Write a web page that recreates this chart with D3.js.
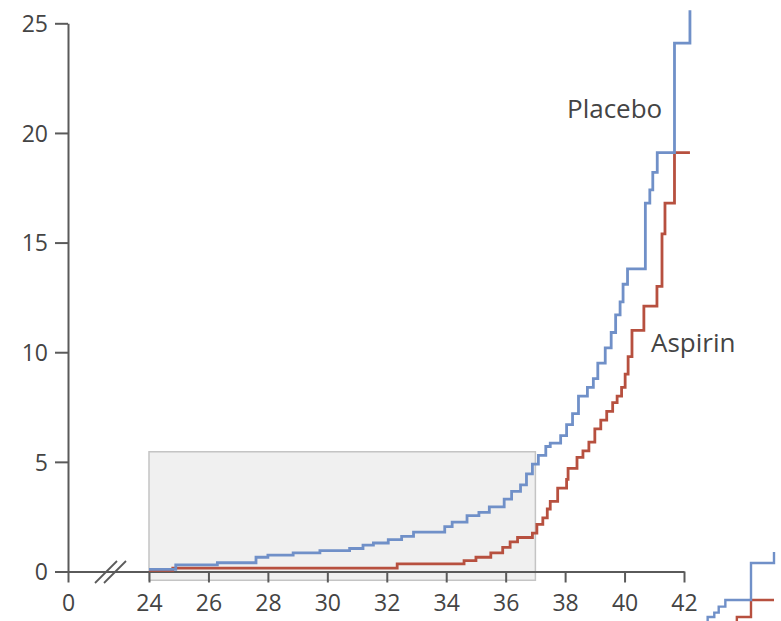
<!DOCTYPE html>
<html>
<head>
<meta charset="utf-8">
<script src="https://cdn.jsdelivr.net/npm/d3@7"></script>
<style>
    body { margin: 0; background: #fff; }
    .tick text { font-family: "Open Sans", sans-serif; font-size: 23px; fill: #444; }
    .curve-label { font-family: "Open Sans", sans-serif; font-size: 26px; fill: #444; }
</style>
</head>
<body>
<div id="data-visualisation"></div>
<script>
//
// Cumulative incidence, aspirin vs placebo (step curves)
//

// Weeks of gestation where each curve steps, and the value after the step (%)
let placeboWeeks = [24.0, 24.9, 26.3, 27.6, 28.0, 28.85, 29.75, 30.75, 31.2, 31.55, 32.05, 32.5, 32.9, 33.95, 34.2, 34.7, 35.1, 35.45, 35.95, 36.2, 36.5, 36.7, 36.9, 37.1, 37.35, 37.5, 37.85, 38.05, 38.25, 38.45, 38.75, 38.95, 39.1, 39.35, 39.55, 39.7, 39.85, 39.95, 40.1, 40.7, 40.85, 40.95, 41.1, 41.68, 42.2];
let placeboRisk = [0.1, 0.3, 0.4, 0.65, 0.75, 0.85, 0.95, 1.05, 1.2, 1.3, 1.45, 1.6, 1.8, 2.05, 2.25, 2.55, 2.7, 2.95, 3.3, 3.65, 3.95, 4.45, 4.9, 5.3, 5.7, 5.85, 6.2, 6.7, 7.2, 8.0, 8.4, 8.8, 9.5, 10.2, 10.9, 11.7, 12.3, 13.1, 13.8, 16.8, 17.4, 18.2, 19.1, 24.1, 25.6];

let aspirinWeeks = [24.0, 24.8, 32.35, 34.6, 35.0, 35.5, 35.9, 36.15, 36.4, 36.9, 37.05, 37.25, 37.4, 37.5, 37.75, 38.05, 38.1, 38.4, 38.6, 38.8, 39.0, 39.2, 39.4, 39.6, 39.75, 39.9, 40.02, 40.12, 40.25, 40.65, 41.09, 41.26, 41.36, 41.68, 42.2];
let aspirinRisk = [0.05, 0.15, 0.35, 0.5, 0.65, 0.85, 1.1, 1.35, 1.55, 1.75, 2.15, 2.45, 2.85, 3.2, 3.8, 4.2, 4.7, 5.2, 5.5, 5.9, 6.5, 6.9, 7.3, 7.7, 8.0, 8.4, 9.0, 9.8, 11.0, 12.1, 13.0, 15.4, 16.8, 19.1, 19.1];

// Axis ticks
let xTicks = [0, 24, 26, 28, 30, 32, 34, 36, 38, 40, 42];
let yTicks = [0, 5, 10, 15, 20, 25];

// Shaded region (weeks 24-37, up to ~5.5%)
let shadeWeeks = [24, 37];
let shadeRisk = [-0.4, 5.46];

let width = 781;
let height = 621;

let svg = d3.select('#data-visualisation')
    .append('svg')
    .attr('width', width)
    .attr('height', height);

// Broken x scale: 0 then jump to 24
let x = d3.scaleLinear()
    .domain([0, 24, 42])
    .range([68, 149, 684]);

let y = d3.scaleLinear()
    .domain([0, 25])
    .range([571.5, 23.3]);

let placebo = placeboWeeks.map(function(w, i) { return [w, placeboRisk[i]]; });
let aspirin = aspirinWeeks.map(function(w, i) { return [w, aspirinRisk[i]]; });

// Grey box
svg.append('rect')
    .attr('x', x(shadeWeeks[0]))
    .attr('y', y(shadeRisk[1]))
    .attr('width', x(shadeWeeks[1]) - x(shadeWeeks[0]))
    .attr('height', y(shadeRisk[0]) - y(shadeRisk[1]))
    .style('fill', '#f0f0f0')
    .style('stroke', '#c4c4c4')
    .style('stroke-width', 1.5);

// X axis
let xAxis = svg.append('g')
    .attr('transform', 'translate(0,' + y(0) + ')')
    .call(d3.axisBottom(x)
        .tickValues(xTicks)
        .tickSize(11)
        .tickSizeOuter(0)
        .tickPadding(12));

// Y axis
let yAxis = svg.append('g')
    .attr('transform', 'translate(' + x(0) + ',0)')
    .call(d3.axisLeft(y)
        .tickValues(yTicks)
        .tickSize(13)
        .tickSizeOuter(0)
        .tickPadding(7));

svg.selectAll('.domain, .tick line')
    .style('stroke', '#5a5a5a')
    .style('stroke-width', 2);

yAxis.selectAll('.tick text').attr('dy', '0.36em');

// Axis break marks
[0, 9].forEach(function(off) {
    svg.append('line')
        .attr('x1', 95 + off).attr('y1', 583)
        .attr('x2', 117 + off).attr('y2', 561)
        .style('stroke', '#5a5a5a')
        .style('stroke-width', 1.8);
});

// Step curves
let line = d3.line()
    .x(function(d) { return x(d[0]); })
    .y(function(d) { return y(d[1]); })
    .curve(d3.curveStepAfter);

svg.append('path')
    .datum(aspirin)
    .attr('d', line)
    .style('fill', 'none')
    .style('stroke', '#b7503f')
    .style('stroke-width', 2.8);

svg.append('path')
    .datum(placebo)
    .attr('d', line)
    .style('fill', 'none')
    .style('stroke', '#7090c8')
    .style('stroke-width', 2.8);

// Labels
svg.append('text')
    .attr('class', 'curve-label')
    .attr('x', 567)
    .attr('y', 118)
    .text('Placebo');

svg.append('text')
    .attr('class', 'curve-label')
    .attr('x', 651)
    .attr('y', 352)
    .text('Aspirin');

// Corner of the neighbouring panel, cut off at the edge
let xMini = d3.scaleLinear().domain([41.68, 42.2]).range([751, 774]);
let yMini = d3.scaleLinear().domain([19.1, 24.1]).range([600, 563]);

svg.append('clipPath')
    .attr('id', 'mini-clip')
    .append('rect')
    .attr('x', 705).attr('y', 540)
    .attr('width', 76).attr('height', 81);

let lineMini = d3.line()
    .x(function(d) { return xMini(d[0]); })
    .y(function(d) { return yMini(d[1]); })
    .curve(d3.curveStepAfter);

let mini = svg.append('g').attr('clip-path', 'url(#mini-clip)');

mini.append('path')
    .datum(aspirin)
    .attr('d', lineMini)
    .style('fill', 'none')
    .style('stroke', '#b7503f')
    .style('stroke-width', 2.4);

mini.append('path')
    .datum(placebo)
    .attr('d', lineMini)
    .style('fill', 'none')
    .style('stroke', '#7090c8')
    .style('stroke-width', 2.4);
</script>
</body>
</html>
